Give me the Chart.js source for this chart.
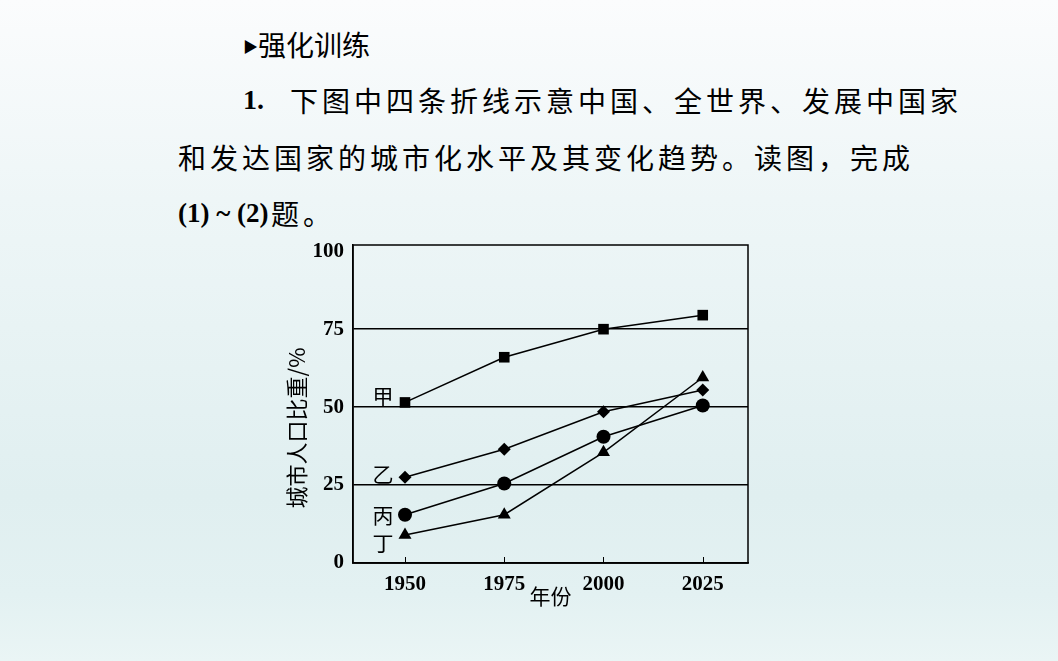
<!DOCTYPE html>
<html>
<head>
<meta charset="utf-8">
<script src="https://cdn.jsdelivr.net/npm/chart.js@4.4.1/dist/chart.umd.min.js"></script>
<style>
  html, body { margin: 0; padding: 0; }
  body {
    width: 1058px; height: 661px; overflow: hidden; position: relative;
    background: linear-gradient(to bottom, #fbfcfd 0%, #eef6f7 30%, #e0eff0 75%, #e3f1f2 90%, #eaf5f5 100%);
    font-family: "Noto Sans CJK SC", sans-serif; color: #000;
  }
  .t { position: absolute; white-space: nowrap; line-height: 28px; font-size: 28px; }
  .cn { font-weight: 400; letter-spacing: 4px; }
  .num { font-family: "Liberation Serif", serif; font-weight: bold; }
  #wrap { position: absolute; left: 0; top: 0; width: 1058px; height: 661px; }
</style>
</head>
<body>
<div class="t" style="left:243px; top:30px; font-size:28px;"><span style="font-size:15px; vertical-align:4px;">▶</span>强化训练</div>
<div class="t num" style="left:243px; top:86px;">1.</div>
<div class="t cn" style="left:290px; top:86px;">下图中四条折线示意中国、全世界、发展中国家</div>
<div class="t cn" style="left:178px; top:143px;">和发达国家的城市化水平及其变化趋势。读图，完成</div>
<div class="t num" style="left:178px; top:199px; font-size:27px;">(1) ~ (2)</div>
<div class="t cn" style="left:271px; top:199px;">题。</div>
<div id="wrap"><canvas id="c" width="1058" height="661"></canvas></div>
<script>
// ---- data ----
const years = [1950, 1975, 2000, 2025];
const seriesNames = ['甲', '乙', '丙', '丁'];
const jia  = [51.5, 66, 75, 79.5];
const yi   = [27.5, 36.5, 48.5, 55.5];
const bing = [15.5, 25.5, 40.5, 50.5];
const ding = [9, 15.5, 35.5, 59.5];
const yTicks = [0, 25, 50, 75, 100];
const yTitle = '城市人口比重/%';
const xTitle = '年份';

// ---- styles ----
const pointStyles = ['rect', 'rectRot', 'circle', 'triangle'];
const pointRadii = [7.5, 6.5, 7, 7.5];
const labelOffsets = [[-22, -6], [-22, -3], [-22, 0], [-22, 8]];
const cjk = "'Noto Sans CJK SC', sans-serif";
const serif = "'Liberation Serif', 'Times New Roman', serif";

const allSeries = [jia, yi, bing, ding];
const datasets = allSeries.map((vals, i) => ({
  label: seriesNames[i],
  data: years.map((yr, k) => ({ x: yr, y: vals[k] })),
  borderColor: '#000',
  borderWidth: 1.5,
  backgroundColor: '#000',
  pointStyle: pointStyles[i],
  pointRadius: pointRadii[i],
  pointBackgroundColor: '#000',
  pointBorderColor: '#000',
  pointBorderWidth: 0,
  tension: 0,
  fill: false
}));

const framePlugin = {
  id: 'frame',
  afterDraw(chart) {
    const { ctx, chartArea: a, scales } = chart;
    ctx.save();
    ctx.strokeStyle = '#000';
    ctx.lineWidth = 1.5;
    ctx.strokeRect(a.left, a.top, a.right - a.left, a.bottom - a.top);
    // inward x tick marks
    ctx.lineWidth = 1;
    years.forEach(yr => {
      const px = Math.round(scales.x.getPixelForValue(yr)) + 0.5;
      ctx.beginPath();
      ctx.moveTo(px, a.bottom);
      ctx.lineTo(px, a.bottom - 6);
      ctx.stroke();
    });
    // series labels next to first points
    ctx.fillStyle = '#000';
    ctx.font = '400 21px ' + cjk;
    ctx.textAlign = 'center';
    ctx.textBaseline = 'middle';
    chart.data.datasets.forEach((ds, i) => {
      const p = chart.getDatasetMeta(i).data[0];
      ctx.fillText(ds.label, p.x + labelOffsets[i][0], p.y + labelOffsets[i][1]);
    });
    // y axis title
    ctx.save();
    ctx.translate(297, 428);
    ctx.rotate(-Math.PI / 2);
    ctx.font = '400 22px ' + cjk;
    ctx.fillText(yTitle, 0, 0);
    ctx.restore();
    ctx.restore();
  }
};

new Chart(document.getElementById('c'), {
  type: 'line',
  data: { datasets },
  options: {
    responsive: false,
    animation: false,
    devicePixelRatio: 1,
    layout: { padding: { left: 285, top: 245, right: 310, bottom: 0 } },
    plugins: { legend: { display: false }, tooltip: { enabled: false } },
    scales: {
      x: {
        type: 'linear',
        min: 1936.9,
        max: 2036.4,
        afterBuildTicks: s => { s.ticks = years.map(v => ({ value: v })); },
        afterFit: s => { s.height = 98; },
        grid: { display: false, drawTicks: false },
        border: { display: true, color: '#000', width: 1.5 },
        ticks: {
          color: '#000', padding: 9, maxRotation: 0, autoSkip: false,
          font: { family: serif, size: 21, weight: 'bold' },
          callback: v => String(v)
        },
        title: {
          display: true, text: xTitle, color: '#000',
          font: { family: cjk, size: 21, weight: '400' },
          padding: { top: 0, bottom: 52 }
        }
      },
      y: {
        min: 0,
        max: 102,
        afterBuildTicks: s => { s.ticks = yTicks.map(v => ({ value: v })); },
        afterFit: s => { s.width = 68; },
        grid: {
          drawTicks: false,
          lineWidth: 1.5,
          color: c => (c.tick && c.tick.value === 100) ? 'rgba(0,0,0,0)' : '#000'
        },
        border: { display: true, color: '#000', width: 1.5 },
        ticks: {
          color: '#000', padding: 9,
          font: { family: serif, size: 21, weight: 'bold' },
          callback: v => String(v)
        }
      }
    }
  },
  plugins: [framePlugin]
});
</script>
</body>
</html>
